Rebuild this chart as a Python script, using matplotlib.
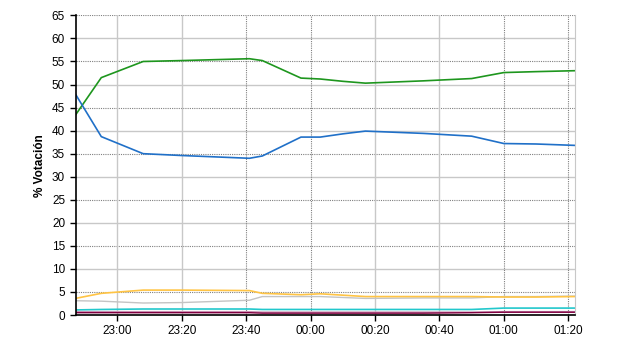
import matplotlib
matplotlib.use('Agg')
import matplotlib.pyplot as plt
import pandas as pd

# hora de cada actualizacion del recuento
horas = ['22:47', '22:55', '23:08', '23:20', '23:41', '23:45', '23:57', '00:03',
         '00:10', '00:17', '00:35', '00:50', '01:00', '01:10', '01:22']

verde = [43.4, 51.5, 55.0, 55.2, 55.6, 55.2, 51.4, 51.2, 50.7, 50.3, 50.8, 51.3, 52.6, 52.8, 53.0]
azul = [47.9, 38.7, 35.0, 34.6, 34.0, 34.5, 38.6, 38.6, 39.3, 39.9, 39.4, 38.8, 37.2, 37.1, 36.8]
naranja = [3.6, 4.7, 5.4, 5.4, 5.3, 4.7, 4.4, 4.6, 4.3, 4.0, 4.0, 4.0, 3.9, 3.9, 4.0]
gris = [3.1, 3.0, 2.6, 2.7, 3.2, 4.0, 4.0, 4.0, 3.8, 3.6, 3.7, 3.7, 4.0, 4.0, 4.1]
cian = [1.1, 1.2, 1.3, 1.3, 1.3, 1.2, 1.2, 1.2, 1.2, 1.2, 1.2, 1.2, 1.5, 1.5, 1.5]
rosa = [0.7, 0.7, 0.7, 0.7, 0.7, 0.6, 0.6, 0.6, 0.6, 0.6, 0.6, 0.6, 0.7, 0.7, 0.7]
granate = [0.5, 0.5, 0.5, 0.5, 0.5, 0.4, 0.4, 0.4, 0.4, 0.4, 0.4, 0.5, 0.6, 0.6, 0.6]

ticks_x = ['23:00', '23:20', '23:40', '00:00', '00:20', '00:40', '01:00', '01:20']
ticks_x_punteados = ['23:40', '00:00', '01:00', '01:20']


def a_fecha(h):
    d = '2000-01-01 ' if h >= '12' else '2000-01-02 '
    return pd.Timestamp(d + h)


t = [a_fecha(h) for h in horas]

plt.rcParams['font.family'] = ['Liberation Sans', 'DejaVu Sans']
fig = plt.figure(figsize=(6.4, 3.5), dpi=100)
ax = fig.add_axes([0.118, 0.1, 0.78, 0.856])

ax.set_xlim(a_fecha('22:47'), a_fecha('01:22'))
ax.set_ylim(0, 65)

# rejilla
for v in range(0, 66, 5):
    if v % 10 == 0:
        ax.axhline(v, color='#c8c8c8', lw=1, zorder=0)
    else:
        ax.axhline(v, color='#808080', lw=0.8, ls=(0, (1, 1)), zorder=0)
for h in ticks_x:
    if h in ticks_x_punteados:
        ax.axvline(a_fecha(h), color='#808080', lw=0.8, ls=(0, (1, 1)), zorder=0)
    else:
        ax.axvline(a_fecha(h), color='#c8c8c8', lw=1, zorder=0)

ax.plot(t, gris, color='#c4c4c4', lw=1)
ax.plot(t, naranja, color='#ffc444', lw=1.2)
ax.plot(t, cian, color='#22c8cc', lw=1.2)
ax.plot(t, rosa, color='#c890b0', lw=1.2)
ax.plot(t, granate, color='#800040', lw=1)
ax.plot(t, verde, color='#1e961e', lw=1.2)
ax.plot(t, azul, color='#2070c8', lw=1.2)

ax.set_xticks([a_fecha(h) for h in ticks_x])
ax.set_xticklabels(ticks_x)
ax.set_yticks(range(0, 66, 5))
ax.tick_params(labelsize=8.5, length=4, width=1, color='black', direction='out')

ax.spines['top'].set_visible(False)
ax.spines['right'].set_color('#c8c8c8')
ax.spines['left'].set_linewidth(1.2)
ax.spines['bottom'].set_linewidth(1.2)

ax.set_ylabel('% Votación', fontsize=8.5, fontweight='bold', labelpad=4)

fig.savefig('out.png', dpi=100)
